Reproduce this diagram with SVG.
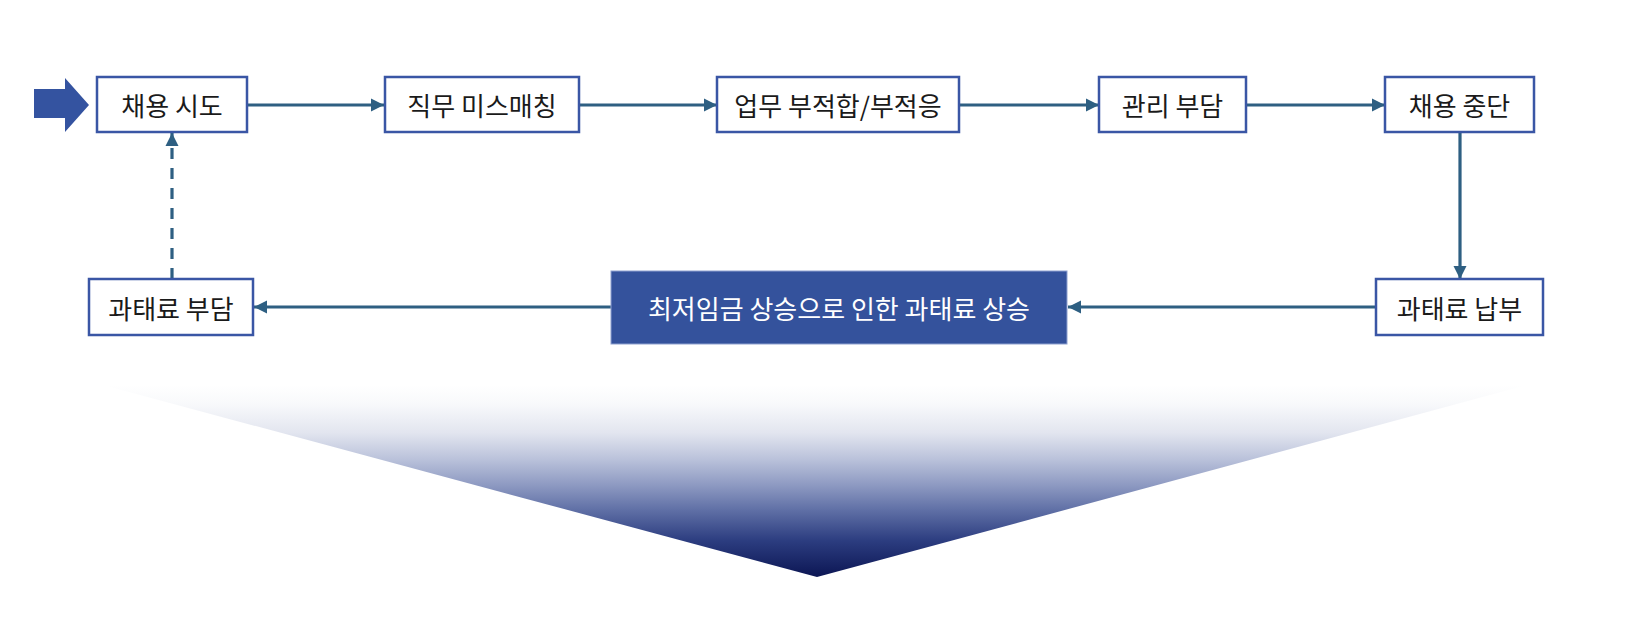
<svg xmlns="http://www.w3.org/2000/svg" width="1630" height="626" viewBox="0 0 1630 626">
<defs>
<style>
.box{fill:#fff;stroke:#3a56a5;stroke-width:2.5}
.lbl{font-family:"Noto Sans CJK KR","Noto Sans",sans-serif;font-size:26px;fill:#1a1a1a;text-anchor:middle;dominant-baseline:central}
.wl{fill:#fff}
.con{fill:none;stroke:#2e5f82;stroke-width:3.2}
</style>
<marker id="ah" markerUnits="userSpaceOnUse" markerWidth="14" markerHeight="14" viewBox="0 0 14 14" refX="13" refY="7" orient="auto">
<path d="M0,0.5 L13,7 L0,13.5 Z" fill="#2e5f82"/>
</marker>
<linearGradient id="tri" x1="0" y1="0" x2="0" y2="1">
<stop offset="0" stop-color="#ffffff"/>
<stop offset="0.1" stop-color="#f8f9fb"/>
<stop offset="0.25" stop-color="#e2e5ef"/>
<stop offset="0.39" stop-color="#b9c1da"/>
<stop offset="0.52" stop-color="#8e9ac2"/>
<stop offset="0.65" stop-color="#6070a6"/>
<stop offset="0.81" stop-color="#2c3d80"/>
<stop offset="1" stop-color="#0c1654"/>
</linearGradient>
</defs>
<rect width="1630" height="626" fill="#fff"/>
<path d="M103,385 L1527,385 L817,577 Z" fill="url(#tri)"/>
<path d="M34,89 L65,89 L65,78 L89,105 L65,132 L65,118 L34,118 Z" fill="#3453a0"/>
<g id="connectors">
<line class="con" x1="247" y1="105" x2="384" y2="105" marker-end="url(#ah)"/>
<line class="con" x1="579" y1="105" x2="717" y2="105" marker-end="url(#ah)"/>
<line class="con" x1="959" y1="105" x2="1099" y2="105" marker-end="url(#ah)"/>
<line class="con" x1="1246" y1="105" x2="1385" y2="105" marker-end="url(#ah)"/>
<line class="con" x1="1460" y1="132" x2="1460" y2="279" marker-end="url(#ah)"/>
<line class="con" x1="1376" y1="307" x2="1068" y2="307" marker-end="url(#ah)"/>
<line class="con" x1="611" y1="307" x2="254" y2="307" marker-end="url(#ah)"/>
<line class="con" x1="172" y1="279" x2="172" y2="133" stroke-dasharray="11,9" marker-end="url(#ah)"/>
</g>
<g id="n1"><rect class="box" x="97" y="77" width="150" height="55"/><text class="lbl" x="172" y="104.5">채용 시도</text></g>
<g id="n2"><rect class="box" x="385" y="77" width="194" height="55"/><text class="lbl" x="482" y="104.5">직무 미스매칭</text></g>
<g id="n3"><rect class="box" x="717" y="77" width="242" height="55"/><text class="lbl" x="838" y="104.5">업무 부적합/부적응</text></g>
<g id="n4"><rect class="box" x="1099" y="77" width="147" height="55"/><text class="lbl" x="1172.5" y="104.5">관리 부담</text></g>
<g id="n5"><rect class="box" x="1385" y="77" width="149" height="55"/><text class="lbl" x="1459.5" y="104.5">채용 중단</text></g>
<g id="n6"><rect class="box" x="1376" y="279" width="167" height="56"/><text class="lbl" x="1459.5" y="307">과태료 납부</text></g>
<g id="n7"><rect x="611" y="271" width="456" height="73" fill="#34529c" stroke="#8da0cf" stroke-width="1"/><text class="lbl wl" x="839" y="307.5">최저임금 상승으로 인한 과태료 상승</text></g>
<g id="n8"><rect class="box" x="89" y="279" width="164" height="56"/><text class="lbl" x="171" y="307">과태료 부담</text></g>
</svg>
